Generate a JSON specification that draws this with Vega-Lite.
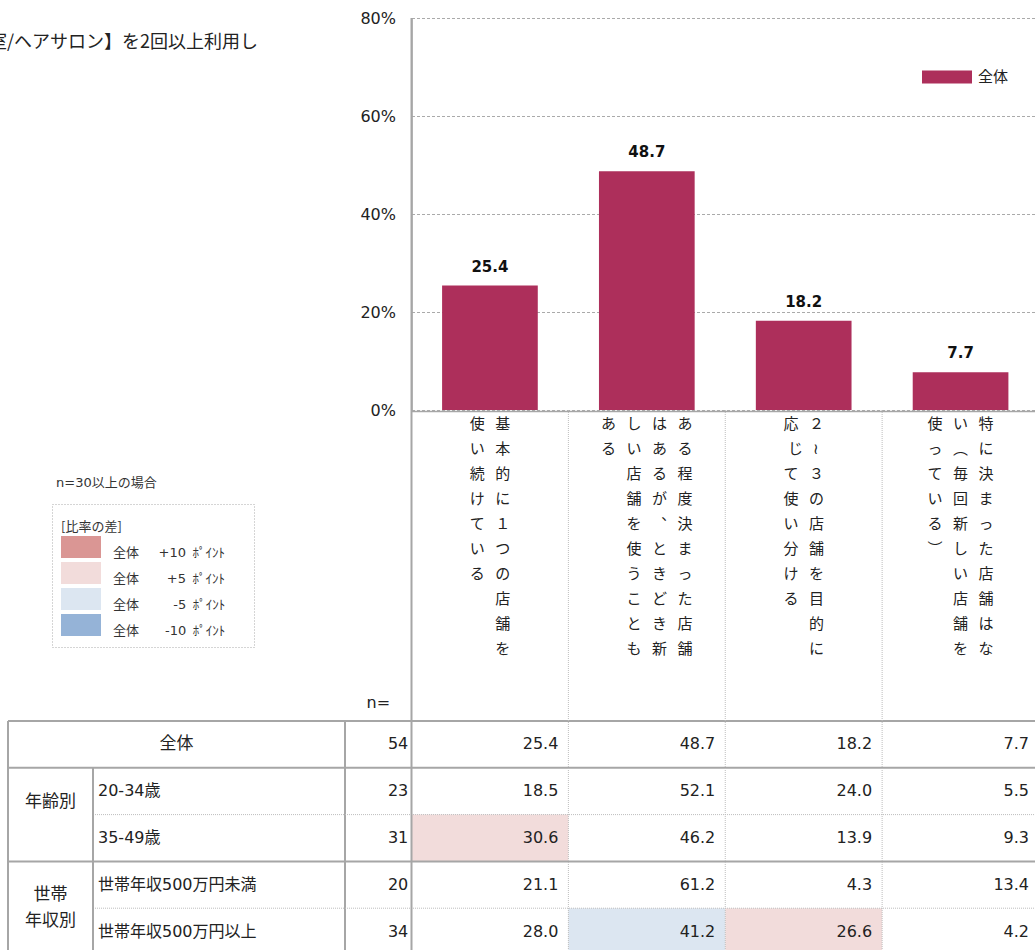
{
"$schema": "https://vega.github.io/schema/vega-lite/v6.json",
"width": 1035,
"height": 950,
"autosize": "none",
"padding": 0,
"background": "#ffffff",
"title": {"text": "【美容室/ヘアサロン】を2回以上利用し", "anchor": "start", "align": "right", "dx": 258, "frame": "group", "orient": "top", "offset": -61, "baseline": "middle", "font": "Noto Sans CJK JP", "fontSize": 18, "fontWeight": "normal", "color": "#222222"},
"config": {"view": {"stroke": null}, "font": "Noto Sans CJK JP", "legend": {"strokeDash": [1, 2], "strokeWidth": 1}},
"datasets": {
"bars": [
{"cat": "基本的に1つの店舗を使い続けている", "pct": 25.4, "label": "使\u2002\u2009基\nい\u2002\u2009本\n続\u2002\u2009的\nけ\u2002\u2009に\nて\u2002\u2009１\nい\u2002\u2009つ\nる\u2002\u2009の\n\u200b\u3000\u2002\u2009店\n\u200b\u3000\u2002\u2009舗\n\u200b\u3000\u2002\u2009を"},
{"cat": "ある程度決まった店舗はあるが、ときどき新しい店舗を使うこともある", "pct": 48.7, "label": "あ\u2002\u2009し\u2002\u2009は\u2002\u2009あ\nる\u2002\u2009い\u2002\u2009あ\u2002\u2009る\n\u200b\u3000\u2002\u2009店\u2002\u2009る\u2002\u2009程\n\u200b\u3000\u2002\u2009舗\u2002\u2009が\u2002\u2009度\n\u200b\u3000\u2002\u2009を\u2002\u2009︑\u2002\u2009決\n\u200b\u3000\u2002\u2009使\u2002\u2009と\u2002\u2009ま\n\u200b\u3000\u2002\u2009う\u2002\u2009き\u2002\u2009っ\n\u200b\u3000\u2002\u2009こ\u2002\u2009ど\u2002\u2009た\n\u200b\u3000\u2002\u2009と\u2002\u2009き\u2002\u2009店\n\u200b\u3000\u2002\u2009も\u2002\u2009新\u2002\u2009舗"},
{"cat": "2～3の店舗を目的に応じて使い分ける", "pct": 18.2, "label": "応\u2002\u2009２\nじ\u2002\u2009≀\nて\u2002\u2009３\n使\u2002\u2009の\nい\u2002\u2009店\n分\u2002\u2009舗\nけ\u2002\u2009を\nる\u2002\u2009目\n\u200b\u3000\u2002\u2009的\n\u200b\u3000\u2002\u2009に"},
{"cat": "特に決まった店舗はない（毎回新しい店舗を使っている）", "pct": 7.7, "label": "使\u2002\u2009い\u2002\u2009特\nっ\u2002\u2009︵\u2002\u2009に\nて\u2002\u2009毎\u2002\u2009決\nい\u2002\u2009回\u2002\u2009ま\nる\u2002\u2009新\u2002\u2009っ\n︶\u2002\u2009し\u2002\u2009た\n\u200b\u3000\u2002\u2009い\u2002\u2009店\n\u200b\u3000\u2002\u2009店\u2002\u2009舗\n\u200b\u3000\u2002\u2009舗\u2002\u2009は\n\u200b\u3000\u2002\u2009を\u2002\u2009な"}
],
"cells": [
{"seg": "全体", "cat": "基本的に1つの店舗を使い続けている", "value": 25.4},
{"seg": "全体", "cat": "ある程度決まった店舗はあるが、ときどき新しい店舗を使うこともある", "value": 48.7},
{"seg": "全体", "cat": "2～3の店舗を目的に応じて使い分ける", "value": 18.2},
{"seg": "全体", "cat": "特に決まった店舗はない（毎回新しい店舗を使っている）", "value": 7.7},
{"seg": "20-34歳", "cat": "基本的に1つの店舗を使い続けている", "value": 18.5},
{"seg": "20-34歳", "cat": "ある程度決まった店舗はあるが、ときどき新しい店舗を使うこともある", "value": 52.1},
{"seg": "20-34歳", "cat": "2～3の店舗を目的に応じて使い分ける", "value": 24.0},
{"seg": "20-34歳", "cat": "特に決まった店舗はない（毎回新しい店舗を使っている）", "value": 5.5},
{"seg": "35-49歳", "cat": "基本的に1つの店舗を使い続けている", "value": 30.6, "diff": "+5"},
{"seg": "35-49歳", "cat": "ある程度決まった店舗はあるが、ときどき新しい店舗を使うこともある", "value": 46.2},
{"seg": "35-49歳", "cat": "2～3の店舗を目的に応じて使い分ける", "value": 13.9},
{"seg": "35-49歳", "cat": "特に決まった店舗はない（毎回新しい店舗を使っている）", "value": 9.3},
{"seg": "世帯年収500万円未満", "cat": "基本的に1つの店舗を使い続けている", "value": 21.1},
{"seg": "世帯年収500万円未満", "cat": "ある程度決まった店舗はあるが、ときどき新しい店舗を使うこともある", "value": 61.2},
{"seg": "世帯年収500万円未満", "cat": "2～3の店舗を目的に応じて使い分ける", "value": 4.3},
{"seg": "世帯年収500万円未満", "cat": "特に決まった店舗はない（毎回新しい店舗を使っている）", "value": 13.4},
{"seg": "世帯年収500万円以上", "cat": "基本的に1つの店舗を使い続けている", "value": 28.0},
{"seg": "世帯年収500万円以上", "cat": "ある程度決まった店舗はあるが、ときどき新しい店舗を使うこともある", "value": 41.2, "diff": "-5"},
{"seg": "世帯年収500万円以上", "cat": "2～3の店舗を目的に応じて使い分ける", "value": 26.6, "diff": "+5"},
{"seg": "世帯年収500万円以上", "cat": "特に決まった店舗はない（毎回新しい店舗を使っている）", "value": 4.2}
],
"rows": [
{"seg": "全体", "group": "全体", "n": 54},
{"seg": "20-34歳", "group": "年齢別", "n": 23},
{"seg": "35-49歳", "group": "年齢別", "n": 31},
{"seg": "世帯年収500万円未満", "group": "世帯年収別", "n": 20},
{"seg": "世帯年収500万円以上", "group": "世帯年収別", "n": 34}
],
"groups": [
{"group": "年齢別", "first": "20-34歳"},
{"group": "世帯\n年収別", "first": "世帯年収500万円未満"}
]
},
"resolve": {"scale": {"x": "independent", "y": "independent"}},
"layer": [
{
"data": {"name": "cells"},
"layer": [
{
"transform": [{"filter": {"field": "diff", "valid": true}}],
"mark": {"type": "rect", "strokeWidth": 0},
"encoding": {
"x": {"field": "cat", "type": "nominal", "axis": null, "scale": {"domain": ["基本的に1つの店舗を使い続けている", "ある程度決まった店舗はあるが、ときどき新しい店舗を使うこともある", "2～3の店舗を目的に応じて使い分ける", "特に決まった店舗はない（毎回新しい店舗を使っている）"], "range": [411.5, 1039], "paddingInner": 0, "paddingOuter": 0}},
"y": {"field": "seg", "type": "nominal", "axis": null, "scale": {"domain": ["全体", "20-34歳", "35-49歳", "世帯年収500万円未満", "世帯年収500万円以上"], "range": [721, 955], "paddingInner": 0, "paddingOuter": 0}},
"fill": {"field": "diff", "type": "nominal", "scale": {"domain": ["+10", "+5", "-5", "-10"], "range": ["#da9694", "#f2dcdb", "#dce6f1", "#95b3d7"]},
"legend": {"orient": "none", "legendX": 52, "legendY": 504, "direction": "vertical", "title": "[比率の差]", "titleFont": "Noto Sans CJK JP", "titleFontSize": 13, "titleFontWeight": "normal", "titleColor": "#333333", "titleAnchor": "start", "titleBaseline": "line-top", "titleLineHeight": 28, "titlePadding": 11, "padding": 9, "strokeColor": "#aaaaaa", "symbolType": "M-1,-1.1H3V1.1H-1Z", "symbolSize": 400, "symbolStrokeWidth": 0, "symbolOpacity": 1, "rowPadding": 2, "labelOffset": 32, "labelFont": "DejaVu Sans, Noto Sans CJK JP", "labelFontSize": 13, "labelColor": "#333333", "labelBaseline": "top", "labelLimit": 400,
"labelExpr": "datum.label == '+10' ? '全体\u2003\u2002+10\u2002ﾎﾟｲﾝﾄ\u2003\u2002\u200b' : datum.label == '+5' ? '全体\u2003\u2002\u2007+5\u2002ﾎﾟｲﾝﾄ\u2003\u2002\u200b' : datum.label == '-5' ? '全体\u2003\u2002\u2002\u2007-5\u2002ﾎﾟｲﾝﾄ\u2003\u2002\u200b' : '全体\u2003\u2002\u2002-10\u2002ﾎﾟｲﾝﾄ\u2003\u2002\u200b'"}}
}
},
{
"mark": {"type": "text", "align": "right", "baseline": "middle", "dx": -10, "font": "DejaVu Sans", "fontSize": 16, "color": "#222222"},
"encoding": {
"x": {"field": "cat", "type": "nominal", "bandPosition": 1, "axis": null, "scale": {"domain": ["基本的に1つの店舗を使い続けている", "ある程度決まった店舗はあるが、ときどき新しい店舗を使うこともある", "2～3の店舗を目的に応じて使い分ける", "特に決まった店舗はない（毎回新しい店舗を使っている）"], "range": [411.5, 1039], "paddingInner": 0, "paddingOuter": 0}},
"y": {"field": "seg", "type": "nominal", "axis": null, "scale": {"domain": ["全体", "20-34歳", "35-49歳", "世帯年収500万円未満", "世帯年収500万円以上"], "range": [721, 955], "paddingInner": 0, "paddingOuter": 0}},
"text": {"field": "value", "type": "quantitative", "format": ".1f"}
}
}
]
},
{
"data": {"name": "rows"},
"layer": [
{
"transform": [{"filter": {"field": "seg", "oneOf": ["全体", "20-34歳", "世帯年収500万円未満"]}}],
"mark": {"type": "rule", "color": "#a6a6a6", "strokeWidth": 2},
"encoding": {
"x": {"datum": "区分", "type": "nominal", "bandPosition": 0, "axis": null, "scale": {"domain": ["区分"], "range": [8, 345], "paddingInner": 0, "paddingOuter": 0}},
"x2": {"value": "width"},
"y": {"field": "seg", "type": "nominal", "bandPosition": 0, "axis": null, "scale": {"domain": ["全体", "20-34歳", "35-49歳", "世帯年収500万円未満", "世帯年収500万円以上"], "range": [721, 955], "paddingInner": 0, "paddingOuter": 0}}
}
},
{
"data": {"values": [{}]},
"mark": {"type": "rule", "color": "#a6a6a6", "strokeWidth": 2},
"encoding": {
"x": {"datum": "区分", "type": "nominal", "bandPosition": 0, "axis": null, "scale": {"domain": ["区分"], "range": [8, 345], "paddingInner": 0, "paddingOuter": 0}},
"y": {"datum": "全体", "type": "nominal", "bandPosition": 0, "axis": null, "scale": {"domain": ["全体", "20-34歳", "35-49歳", "世帯年収500万円未満", "世帯年収500万円以上"], "range": [721, 955], "paddingInner": 0, "paddingOuter": 0}},
"y2": {"value": "height"}
}
},
{
"data": {"values": [{}]},
"mark": {"type": "rule", "color": "#a6a6a6", "strokeWidth": 2},
"encoding": {
"x": {"datum": "区分", "type": "nominal", "bandPosition": 1, "axis": null, "scale": {"domain": ["区分"], "range": [8, 345], "paddingInner": 0, "paddingOuter": 0}},
"y": {"datum": "全体", "type": "nominal", "bandPosition": 0, "axis": null, "scale": {"domain": ["全体", "20-34歳", "35-49歳", "世帯年収500万円未満", "世帯年収500万円以上"], "range": [721, 955], "paddingInner": 0, "paddingOuter": 0}},
"y2": {"value": "height"}
}
},
{
"transform": [{"filter": {"field": "seg", "equal": "全体"}}],
"mark": {"type": "text", "align": "center", "baseline": "middle", "font": "Noto Sans CJK JP", "fontSize": 17, "color": "#222222"},
"encoding": {
"x": {"datum": "区分", "type": "nominal", "bandPosition": 0.5, "axis": null, "scale": {"domain": ["区分"], "range": [8, 345], "paddingInner": 0, "paddingOuter": 0}},
"y": {"field": "seg", "type": "nominal", "axis": null, "scale": {"domain": ["全体", "20-34歳", "35-49歳", "世帯年収500万円未満", "世帯年収500万円以上"], "range": [721, 955], "paddingInner": 0, "paddingOuter": 0}},
"text": {"field": "seg", "type": "nominal"}
}
},
{
"data": {"name": "groups"},
"mark": {"type": "text", "align": "center", "baseline": "line-top", "lineBreak": "\n", "lineHeight": 26, "dy": -26, "font": "Noto Sans CJK JP", "fontSize": 17, "color": "#222222"},
"encoding": {
"x": {"datum": "区分", "type": "nominal", "bandPosition": 0.126, "axis": null, "scale": {"domain": ["区分"], "range": [8, 345], "paddingInner": 0, "paddingOuter": 0}},
"y": {"field": "first", "type": "nominal", "bandPosition": 1, "axis": null, "scale": {"domain": ["全体", "20-34歳", "35-49歳", "世帯年収500万円未満", "世帯年収500万円以上"], "range": [721, 955], "paddingInner": 0, "paddingOuter": 0}},
"text": {"field": "group", "type": "nominal"}
}
},
{
"data": {"values": [{"note": "n=30以上の場合"}]},
"mark": {"type": "text", "align": "left", "baseline": "middle", "dx": 48, "dy": -238, "font": "DejaVu Sans, Noto Sans CJK JP", "fontSize": 13, "color": "#333333"},
"encoding": {
"x": {"datum": "区分", "type": "nominal", "bandPosition": 0, "axis": null, "scale": {"domain": ["区分"], "range": [8, 345], "paddingInner": 0, "paddingOuter": 0}},
"y": {"datum": "全体", "type": "nominal", "bandPosition": 0, "axis": null, "scale": {"domain": ["全体", "20-34歳", "35-49歳", "世帯年収500万円未満", "世帯年収500万円以上"], "range": [721, 955], "paddingInner": 0, "paddingOuter": 0}},
"text": {"field": "note", "type": "nominal"}
}
}
]
},
{
"data": {"name": "rows"},
"layer": [
{
"transform": [{"filter": {"field": "seg", "oneOf": ["35-49歳", "世帯年収500万円以上"]}}],
"mark": {"type": "rule", "color": "#bdbdbd", "strokeWidth": 1, "strokeDash": [1, 1]},
"encoding": {
"x": {"datum": "属性", "type": "nominal", "bandPosition": 0, "axis": null, "scale": {"domain": ["属性"], "range": [93, 345], "paddingInner": 0, "paddingOuter": 0}},
"x2": {"value": "width"},
"y": {"field": "seg", "type": "nominal", "bandPosition": 0, "axis": null, "scale": {"domain": ["全体", "20-34歳", "35-49歳", "世帯年収500万円未満", "世帯年収500万円以上"], "range": [721, 955], "paddingInner": 0, "paddingOuter": 0}}
}
},
{
"data": {"values": [{}]},
"mark": {"type": "rule", "color": "#a6a6a6", "strokeWidth": 2},
"encoding": {
"x": {"datum": "属性", "type": "nominal", "bandPosition": 0, "axis": null, "scale": {"domain": ["属性"], "range": [93, 345], "paddingInner": 0, "paddingOuter": 0}},
"y": {"datum": "20-34歳", "type": "nominal", "bandPosition": 0, "axis": null, "scale": {"domain": ["全体", "20-34歳", "35-49歳", "世帯年収500万円未満", "世帯年収500万円以上"], "range": [721, 955], "paddingInner": 0, "paddingOuter": 0}},
"y2": {"value": "height"}
}
},
{
"transform": [{"filter": {"not": {"field": "seg", "equal": "全体"}}}],
"mark": {"type": "text", "align": "left", "baseline": "middle", "dx": 5, "font": "DejaVu Sans, Noto Sans CJK JP", "fontSize": 16, "color": "#222222"},
"encoding": {
"x": {"datum": "属性", "type": "nominal", "bandPosition": 0, "axis": null, "scale": {"domain": ["属性"], "range": [93, 345], "paddingInner": 0, "paddingOuter": 0}},
"y": {"field": "seg", "type": "nominal", "axis": null, "scale": {"domain": ["全体", "20-34歳", "35-49歳", "世帯年収500万円未満", "世帯年収500万円以上"], "range": [721, 955], "paddingInner": 0, "paddingOuter": 0}},
"text": {"field": "seg", "type": "nominal"}
}
}
]
},
{
"data": {"name": "rows"},
"layer": [
{
"mark": {"type": "text", "align": "right", "baseline": "middle", "dx": 30, "font": "DejaVu Sans", "fontSize": 16, "color": "#222222"},
"encoding": {
"x": {"datum": "人数", "type": "nominal", "bandPosition": 0.5, "axis": null, "scale": {"domain": ["人数"], "range": [345, 411.5], "paddingInner": 0, "paddingOuter": 0}},
"y": {"field": "seg", "type": "nominal", "axis": null, "scale": {"domain": ["全体", "20-34歳", "35-49歳", "世帯年収500万円未満", "世帯年収500万円以上"], "range": [721, 955], "paddingInner": 0, "paddingOuter": 0}},
"text": {"field": "n", "type": "quantitative"}
}
},
{
"data": {"values": [{"head": "n="}]},
"mark": {"type": "text", "align": "center", "baseline": "middle", "dy": -41, "font": "DejaVu Sans", "fontSize": 16, "color": "#222222"},
"encoding": {
"x": {"datum": "人数", "type": "nominal", "axis": null, "scale": {"domain": ["人数"], "range": [345, 411.5], "paddingInner": 0, "paddingOuter": 0}},
"y": {"datum": "全体", "type": "nominal", "axis": null, "scale": {"domain": ["全体", "20-34歳", "35-49歳", "世帯年収500万円未満", "世帯年収500万円以上"], "range": [721, 955], "paddingInner": 0, "paddingOuter": 0}},
"text": {"field": "head", "type": "nominal"}
}
}
]
},
{
"data": {"name": "bars"},
"layer": [
{
"mark": {"type": "rule", "color": "#bdbdbd", "strokeWidth": 1, "strokeDash": [1, 1]},
"encoding": {
"x": {"field": "cat", "type": "nominal", "bandPosition": 0, "axis": null, "scale": {"domain": ["基本的に1つの店舗を使い続けている", "ある程度決まった店舗はあるが、ときどき新しい店舗を使うこともある", "2～3の店舗を目的に応じて使い分ける", "特に決まった店舗はない（毎回新しい店舗を使っている）"], "range": [411.5, 1039], "paddingInner": 0, "paddingOuter": 0}},
"y": {"datum": 0, "type": "quantitative", "scale": {"domain": [0, 80], "range": [410, 18], "nice": false, "zero": false}, "axis": {"orient": "left", "offset": -411.5, "values": [0, 20, 40, 60, 80], "labelExpr": "datum.value + '%'", "labelFont": "DejaVu Sans", "labelFontSize": 16, "labelColor": "#222222", "labelPadding": 16, "ticks": false, "tickSize": 0, "domain": true, "domainColor": "#a6a6a6", "domainWidth": 1.5, "grid": true, "gridColor": "#aaaaaa", "gridDash": [3, 2], "gridWidth": 1, "title": null}},
"y2": {"value": "height"}
}
},
{
"data": {"values": [{}]},
"mark": {"type": "rule", "color": "#a6a6a6", "strokeWidth": 2},
"encoding": {
"x": {"datum": "基本的に1つの店舗を使い続けている", "type": "nominal", "bandPosition": 0, "axis": null, "scale": {"domain": ["基本的に1つの店舗を使い続けている", "ある程度決まった店舗はあるが、ときどき新しい店舗を使うこともある", "2～3の店舗を目的に応じて使い分ける", "特に決まった店舗はない（毎回新しい店舗を使っている）"], "range": [411.5, 1039], "paddingInner": 0, "paddingOuter": 0}},
"y": {"datum": 80, "type": "quantitative", "scale": {"domain": [0, 80], "range": [410, 18], "nice": false, "zero": false}, "axis": {"orient": "left", "offset": -411.5, "values": [0, 20, 40, 60, 80], "labelExpr": "datum.value + '%'", "labelFont": "DejaVu Sans", "labelFontSize": 16, "labelColor": "#222222", "labelPadding": 16, "ticks": false, "tickSize": 0, "domain": true, "domainColor": "#a6a6a6", "domainWidth": 1.5, "grid": true, "gridColor": "#aaaaaa", "gridDash": [3, 2], "gridWidth": 1, "title": null}},
"y2": {"value": "height"}
}
},
{
"data": {"values": [{}]},
"mark": {"type": "rule", "color": "#a6a6a6", "strokeWidth": 1.5, "yOffset": 1.5},
"encoding": {
"x": {"datum": "基本的に1つの店舗を使い続けている", "type": "nominal", "bandPosition": 0, "axis": null, "scale": {"domain": ["基本的に1つの店舗を使い続けている", "ある程度決まった店舗はあるが、ときどき新しい店舗を使うこともある", "2～3の店舗を目的に応じて使い分ける", "特に決まった店舗はない（毎回新しい店舗を使っている）"], "range": [411.5, 1039], "paddingInner": 0, "paddingOuter": 0}},
"x2": {"value": "width"},
"y": {"datum": 0, "type": "quantitative", "scale": {"domain": [0, 80], "range": [410, 18], "nice": false, "zero": false}, "axis": {"orient": "left", "offset": -411.5, "values": [0, 20, 40, 60, 80], "labelExpr": "datum.value + '%'", "labelFont": "DejaVu Sans", "labelFontSize": 16, "labelColor": "#222222", "labelPadding": 16, "ticks": false, "tickSize": 0, "domain": true, "domainColor": "#a6a6a6", "domainWidth": 1.5, "grid": true, "gridColor": "#aaaaaa", "gridDash": [3, 2], "gridWidth": 1, "title": null}}
}
},
{
"mark": {"type": "bar", "width": {"band": 0.61}},
"encoding": {
"x": {"field": "cat", "type": "nominal", "axis": null, "scale": {"domain": ["基本的に1つの店舗を使い続けている", "ある程度決まった店舗はあるが、ときどき新しい店舗を使うこともある", "2～3の店舗を目的に応じて使い分ける", "特に決まった店舗はない（毎回新しい店舗を使っている）"], "range": [411.5, 1039], "paddingInner": 0, "paddingOuter": 0}},
"y": {"field": "pct", "type": "quantitative", "scale": {"domain": [0, 80], "range": [410, 18], "nice": false, "zero": false}, "axis": {"orient": "left", "offset": -411.5, "values": [0, 20, 40, 60, 80], "labelExpr": "datum.value + '%'", "labelFont": "DejaVu Sans", "labelFontSize": 16, "labelColor": "#222222", "labelPadding": 16, "ticks": false, "tickSize": 0, "domain": true, "domainColor": "#a6a6a6", "domainWidth": 1.5, "grid": true, "gridColor": "#aaaaaa", "gridDash": [3, 2], "gridWidth": 1, "title": null}},
"color": {"datum": "全体", "type": "nominal", "scale": {"domain": ["全体"], "range": ["#ad2f5b"]}, "legend": {"orient": "none", "legendX": 922, "legendY": 52, "title": null, "symbolType": "M-1,-0.26H1V0.26H-1Z", "symbolSize": 2500, "symbolStrokeWidth": 0, "symbolOpacity": 1, "labelOffset": 6, "labelFont": "Noto Sans CJK JP", "labelFontSize": 15, "labelColor": "#222222", "padding": 0}}
}
},
{
"mark": {"type": "text", "align": "center", "baseline": "alphabetic", "dy": -14, "font": "DejaVu Sans", "fontSize": 15, "fontWeight": "bold", "color": "#111111"},
"encoding": {
"x": {"field": "cat", "type": "nominal", "axis": null, "scale": {"domain": ["基本的に1つの店舗を使い続けている", "ある程度決まった店舗はあるが、ときどき新しい店舗を使うこともある", "2～3の店舗を目的に応じて使い分ける", "特に決まった店舗はない（毎回新しい店舗を使っている）"], "range": [411.5, 1039], "paddingInner": 0, "paddingOuter": 0}},
"y": {"field": "pct", "type": "quantitative", "scale": {"domain": [0, 80], "range": [410, 18], "nice": false, "zero": false}, "axis": {"orient": "left", "offset": -411.5, "values": [0, 20, 40, 60, 80], "labelExpr": "datum.value + '%'", "labelFont": "DejaVu Sans", "labelFontSize": 16, "labelColor": "#222222", "labelPadding": 16, "ticks": false, "tickSize": 0, "domain": true, "domainColor": "#a6a6a6", "domainWidth": 1.5, "grid": true, "gridColor": "#aaaaaa", "gridDash": [3, 2], "gridWidth": 1, "title": null}},
"text": {"field": "pct", "type": "quantitative", "format": ".1f"}
}
},
{
"mark": {"type": "text", "align": "center", "baseline": "line-top", "lineBreak": "\n", "lineHeight": 25, "dy": 1.5, "font": "Noto Sans CJK JP", "fontSize": 15, "color": "#222222"},
"encoding": {
"x": {"field": "cat", "type": "nominal", "axis": null, "scale": {"domain": ["基本的に1つの店舗を使い続けている", "ある程度決まった店舗はあるが、ときどき新しい店舗を使うこともある", "2～3の店舗を目的に応じて使い分ける", "特に決まった店舗はない（毎回新しい店舗を使っている）"], "range": [411.5, 1039], "paddingInner": 0, "paddingOuter": 0}},
"y": {"datum": 0, "type": "quantitative", "scale": {"domain": [0, 80], "range": [410, 18], "nice": false, "zero": false}, "axis": {"orient": "left", "offset": -411.5, "values": [0, 20, 40, 60, 80], "labelExpr": "datum.value + '%'", "labelFont": "DejaVu Sans", "labelFontSize": 16, "labelColor": "#222222", "labelPadding": 16, "ticks": false, "tickSize": 0, "domain": true, "domainColor": "#a6a6a6", "domainWidth": 1.5, "grid": true, "gridColor": "#aaaaaa", "gridDash": [3, 2], "gridWidth": 1, "title": null}},
"text": {"field": "label", "type": "nominal"}
}
}
]
}
]
}
